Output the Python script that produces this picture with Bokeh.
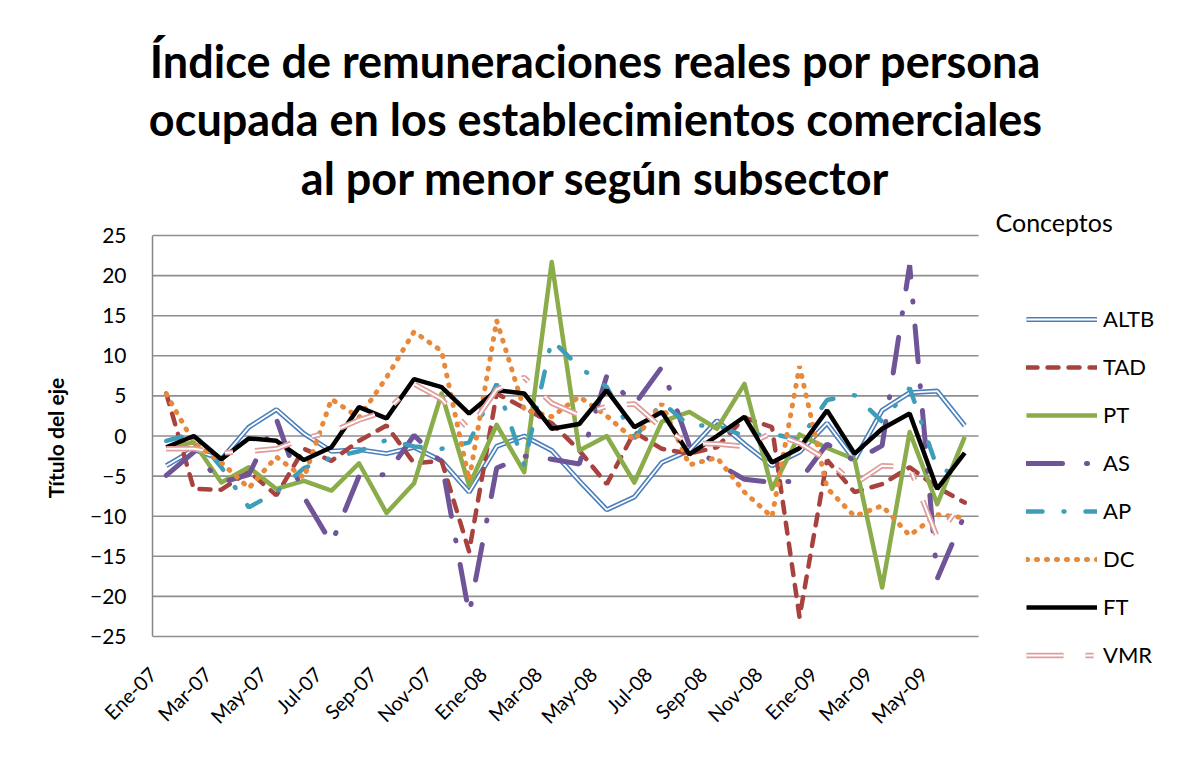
import math
from bokeh.plotting import figure
from bokeh.layouts import column, row
from bokeh.models import FixedTicker, Legend, LegendItem, Label, Range1d
from bokeh.embed import file_html
from bokeh.resources import INLINE

months = ["Ene-07", "Feb-07", "Mar-07", "Abr-07", "May-07", "Jun-07", "Jul-07", "Ago-07",
          "Sep-07", "Oct-07", "Nov-07", "Dic-07", "Ene-08", "Feb-08", "Mar-08", "Abr-08",
          "May-08", "Jun-08", "Jul-08", "Ago-08", "Sep-08", "Oct-08", "Nov-08", "Dic-08",
          "Ene-09", "Feb-09", "Mar-09", "Abr-09", "May-09", "Jun-09"]

ALTB = [-3.7, -1.7, -2.9, 1.1, 3.3, 0.3, -1.9, -1.7, -2.2, -1.4, -3.1, -7.0, -1.3, 0.0, -1.8,
        -5.6, -9.2, -7.6, -3.3, -1.8, 1.9, -1.0, -3.7, -2.0, 1.6, -3.0, 3.2, 5.4, 5.6, 1.3]
TAD = [5.3, -6.6, -6.7, -4.4, -7.4, -1.6, -3.1, -0.6, 1.3, -3.4, -3.1, -14.4, 5.3, 3.5, 1.6,
       -1.8, -6.0, 0.5, -1.6, -2.2, -1.4, 2.3, 1.1, -22.6, -3.0, -7.0, -6.0, -3.9, -6.4, -8.3]
PT = [-1.5, -0.8, -5.8, -3.9, -6.6, -5.6, -6.8, -3.4, -9.6, -5.9, 5.3, -6.2, 1.4, -4.5, 21.7,
      -1.8, 0.0, -5.8, 1.8, 3.0, 0.9, 6.5, -6.6, 0.2, -1.5, -2.9, -18.9, 0.5, -8.5, -0.1]
AS = [-4.9, -2.0, -5.8, -4.8, 2.1, -7.6, -13.4, -5.0, -4.8, 0.1, -3.3, -22.2, -4.0, -2.5, -2.9,
      -3.5, 7.5, 3.9, 8.6, -1.2, -3.4, -5.4, -5.8, -5.6, -1.0, -3.1, -1.2, 21.3, -17.8, -9.8]
AP = [-0.6, 0.3, -3.9, -8.9, -7.0, -4.0, -2.7, -1.9, -0.5, -1.3, -1.6, -0.8, 6.5, -3.6, 12.0,
      8.6, 6.1, -0.3, 4.2, 1.3, 1.3, 0.0, 0.3, -0.5, 4.5, 5.1, 1.8, 6.0, -4.0, -5.0]
DC = [5.2, -0.8, -3.3, -6.5, -2.6, -5.2, 4.6, 2.3, 7.3, 13.0, 10.6, -5.5, 14.4, 3.3, 2.4,
      4.9, 2.5, -0.5, 4.0, -3.6, -2.7, -7.0, -10.1, 8.7, -6.5, -10.0, -8.7, -12.4, -9.8, -10.2]
FT = [-1.4, 0.0, -2.9, -0.3, -0.6, -3.0, -1.4, 3.6, 2.2, 7.1, 6.1, 2.8, 5.7, 5.3, 0.9,
      1.5, 5.7, 1.1, 3.0, -2.3, 0.0, 2.4, -3.3, -1.5, 3.2, -2.2, 0.9, 2.8, -6.6, -2.1]
VMR = [-1.6, -1.6, -2.1, -1.9, -1.6, -0.3, 0.5, 2.0, 3.1, 6.5, 4.6, 0.8, 5.8, 7.3, 4.1,
       2.6, 3.7, 4.0, 1.0, -0.9, -1.0, -1.3, 0.4, -0.9, -3.0, -6.0, -3.7, -3.9, -12.6, -7.8]

y_ticks = [-25, -20, -15, -10, -5, 0, 5, 10, 15, 20, 25]
title_lines = ["Índice de remuneraciones reales por persona",
               "ocupada en los establecimientos comerciales",
               "al por menor según subsector"]
series_names = ["ALTB", "TAD", "PT", "AS", "AP", "DC", "FT", "VMR"]
legend_title = "Conceptos"

FONT = "Lato"
n = len(months)
x = list(range(n))
y_lo, y_hi = y_ticks[0], y_ticks[-1]

# layout geometry (pixels)
PAGE_W = 1165
H_TOP = 205                      # title strip
PLOT_L, PLOT_R = 152, 978        # plot area in page pixels
PLOT_T, PLOT_B = 235, 636
FRAME_B = 670                    # drawing frame bottom (legend reaches below the plot area)
kx = (PLOT_R - PLOT_L) / n                   # px per category
ky = (PLOT_B - PLOT_T) / (y_hi - y_lo)       # px per unit
x_start = -0.5
x_end = x_start + (PAGE_W - PLOT_L) / kx
y_end = y_hi + (PLOT_T - H_TOP) / ky
y_start = y_lo - (FRAME_B - PLOT_B) / ky

# ---------------- title strip ----------------
top = figure(width=PAGE_W, height=H_TOP, output_backend="svg", toolbar_location=None,
             x_axis_type=None, y_axis_type=None, min_border=0,
             x_range=Range1d(0, PAGE_W), y_range=Range1d(0, H_TOP))
top.outline_line_color = None
top.background_fill_color = "white"
top.border_fill_color = "white"
for i, line in enumerate(title_lines):
    top.add_layout(Label(x=595, y=H_TOP - (60 + 58.5 * i), x_units="screen", y_units="screen",
                         text=line, text_font=FONT, text_font_size="45px",
                         text_font_style="bold", text_align="center", text_baseline="middle",
                         text_color="black"))

# ---------------- main chart ----------------
p = figure(frame_width=PAGE_W - PLOT_L, frame_height=FRAME_B - H_TOP,
           output_backend="svg", toolbar_location=None,
           x_range=Range1d(x_start, x_end), y_range=Range1d(y_start, y_end),
           min_border_left=PLOT_L, min_border_right=0, min_border_top=0, min_border_bottom=60)
p.outline_line_color = None
p.background_fill_color = "white"
p.border_fill_color = "white"
p.grid.visible = False

# month labels every two months, anchored at the left edge of their category
label_ticks = [i - 0.5 for i in x[::2]]
p.xaxis.ticker = FixedTicker(ticks=label_ticks)
p.xaxis.major_label_overrides = {t: months[i] for t, i in zip(label_ticks, x[::2])}
p.xaxis.major_label_orientation = math.pi / 4
p.xaxis.axis_line_color = None
p.yaxis.ticker = FixedTicker(ticks=y_ticks)
p.yaxis.bounds = (y_lo, y_hi)
p.yaxis.axis_line_color = "#868686"
p.yaxis.axis_line_width = 1.5
for ax in (p.xaxis[0], p.yaxis[0]):
    ax.major_tick_line_color = None
    ax.minor_tick_line_color = None
    ax.major_tick_out = 0
    ax.major_tick_in = 0
    ax.major_label_text_font = FONT
    ax.major_label_text_color = "black"
p.yaxis.major_label_text_font_size = "21px"
p.xaxis.major_label_text_font_size = "20px"
p.yaxis.major_label_standoff = 26
p.xaxis.major_label_standoff = 0
p.yaxis.axis_label = "Título del eje"
p.yaxis.axis_label_text_font = FONT
p.yaxis.axis_label_text_font_size = "21px"
p.yaxis.axis_label_text_font_style = "bold"
p.yaxis.axis_label_text_color = "black"
p.yaxis.axis_label_standoff = 19

# horizontal gridlines across the plot area only (bottom one doubles as the x axis line)
p.segment(x0=[-0.5] * len(y_ticks), x1=[n - 0.5] * len(y_ticks), y0=y_ticks, y1=y_ticks,
          line_color="#8E8E8E", line_width=1.6)

styles = {
    "ALTB": [dict(line_color="#4A7EBB", line_width=5),
             dict(line_color="white", line_width=1.8)],
    "TAD": [dict(line_color="#A8423F", line_width=4.5, line_dash="11 10", line_cap="round")],
    "PT": [dict(line_color="#8BAC4A", line_width=4.5, line_join="round")],
    "AS": [dict(line_color="#6F5497", line_width=5, line_dash="36 24 1 24", line_cap="round")],
    "AP": [dict(line_color="#3E9DB9", line_width=4.5, line_dash="16 21 1 21", line_cap="round")],
    "DC": [dict(line_color="#E8883A", line_width=5, line_dash="1 9", line_cap="round")],
    "FT": [dict(line_color="black", line_width=4.5)],
    "VMR": [dict(line_color="#DE9C9A", line_width=5.5, line_dash="37 22 8 22"),
            dict(line_color="white", line_width=2, line_dash="37 22 8 22")],
}
values = {"ALTB": ALTB, "TAD": TAD, "PT": PT, "AS": AS, "AP": AP, "DC": DC, "FT": FT, "VMR": VMR}

items = []
for name in series_names:
    rs = [p.line(x, values[name], **st) for st in styles[name]]
    items.append(LegendItem(label=name, renderers=rs))

legend = Legend(items=items, location=(1026 - PLOT_L, FRAME_B - 668), orientation="vertical",
                border_line_color=None, background_fill_alpha=0, padding=0, margin=0,
                glyph_width=71, glyph_height=24, label_height=24, spacing=21,
                label_standoff=6, label_text_font=FONT, label_text_font_size="22px",
                label_text_color="black")
p.add_layout(legend)
p.add_layout(Label(x=995 - PLOT_L, y=FRAME_B - 221, x_units="screen", y_units="screen",
                   text=legend_title, text_font=FONT, text_font_size="25px",
                   text_baseline="middle", text_align="left", text_color="black"))

layout = column(top, row(p), spacing=0)
open("out.html", "w").write(file_html(layout, INLINE))
